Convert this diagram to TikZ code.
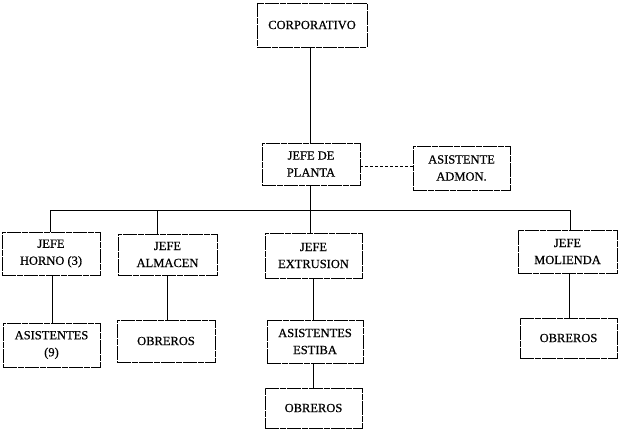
\documentclass[tikz,border=0pt]{standalone}
\usepackage{fontspec}
\setmainfont{Liberation Serif}[FakeBold=0.6]
\usetikzlibrary{calc}
\begin{document}
\begin{tikzpicture}[x=1pt,y=-1pt,
  orgbox/.style={draw, line width=0.9pt, dash pattern=on 14pt off 1pt on 6pt off 1pt,
     align=center, inner sep=0pt, font=\fontsize{12.5}{17}\selectfont},
  link/.style={line width=0.9pt},
  dotlink/.style={line width=0.8pt, dash pattern=on 3pt off 2pt}]
\useasboundingbox (0,0) rectangle (620,428);
\node[orgbox, minimum width=110pt, minimum height=44pt] (corp) at (312,25) {CORPORATIVO};
\node[orgbox, minimum width=98pt, minimum height=42pt] (planta) at (311,164) {JEFE DE\\PLANTA};
\node[orgbox, minimum width=97pt, minimum height=44pt] (admon) at (461.5,168) {ASISTENTE\\ADMON.};
\node[orgbox, minimum width=98pt, minimum height=43pt] (horno) at (51,253.5) {JEFE\\HORNO (3)};
\node[orgbox, minimum width=99pt, minimum height=41pt] (almacen) at (167.5,254.5) {JEFE\\ALMACEN};
\node[orgbox, minimum width=97pt, minimum height=45pt] (extrusion) at (313.5,255.5) {JEFE\\EXTRUSION};
\node[orgbox, minimum width=99pt, minimum height=43pt] (molienda) at (567.5,251.5) {JEFE\\MOLIENDA};
\node[orgbox, minimum width=97pt, minimum height=44pt] (asist) at (51.5,345) {ASISTENTES\\(9)};
\node[orgbox, minimum width=98pt, minimum height=42pt] (obr1) at (166,341) {OBREROS};
\node[orgbox, minimum width=96pt, minimum height=43pt] (estiba) at (315,341.5) {ASISTENTES\\ESTIBA};
\node[orgbox, minimum width=97pt, minimum height=40pt] (obr2) at (313.5,408) {OBREROS};
\node[orgbox, minimum width=97pt, minimum height=40pt] (obr3) at (568.5,338) {OBREROS};
% connectors
\coordinate (bus) at (310,210);
\coordinate (busL) at (50,210);
\coordinate (busR) at (570,210);
\draw[link] (corp.south -| bus) -- (planta.north -| bus);
\draw[link] (planta.south -| bus) -- (bus);
\draw[link] (busL) -- (busR);
\draw[link] (busL) -- (horno.north -| busL);
\draw[link] (157,210) -- (almacen.north -| 157,0);
\draw[link] (bus) -- (extrusion.north -| bus);
\draw[link] (busR) -- (molienda.north -| busR);
\draw[dotlink] ($(planta.east)+(0,2)$) -- ($(admon.west)+(0,-2)$);
\draw[link] (horno.south -| 52,0) -- (asist.north -| 52,0);
\draw[link] (almacen.south -| 167,0) -- (obr1.north -| 167,0);
\draw[link] (extrusion.south -| 313,0) -- (estiba.north -| 313,0);
\draw[link] (estiba.south -| 313,0) -- (obr2.north -| 313,0);
\draw[link] (molienda.south -| 569,0) -- (obr3.north -| 569,0);
\end{tikzpicture}
\end{document}
